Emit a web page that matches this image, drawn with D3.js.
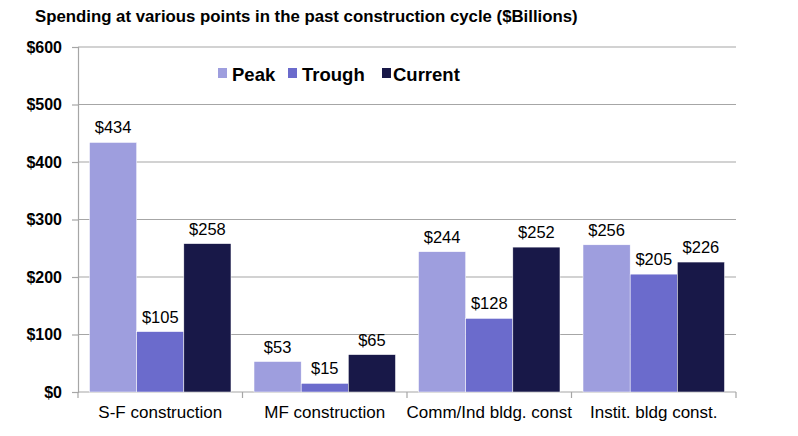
<!DOCTYPE html>
<html>
<head>
<meta charset="utf-8">
<script src="https://cdn.jsdelivr.net/npm/d3@7"></script>
<style>
  body { margin: 0; background: #fff; }
  text { font-family: "Liberation Sans", Arial, sans-serif; }
</style>
</head>
<body>
<svg width="798" height="436"></svg>
<script>
// Chart data
const categories = ["S-F construction", "MF construction", "Comm/Ind bldg. const", "Instit. bldg const."];
const seriesNames = ["Peak", "Trough", "Current"];
const peak = [434, 53, 244, 256];
const trough = [105, 15, 128, 205];
const current = [258, 65, 252, 226];
const yTicks = [0, 100, 200, 300, 400, 500, 600];
const colors = ["#9e9ede", "#6b6bcc", "#181848"];

const series = [peak, trough, current];

const svg = d3.select("svg");
const margin = { top: 47, right: 62, bottom: 44, left: 78 };
const width = 798, height = 436;
const innerWidth = width - margin.left - margin.right;
const innerHeight = height - margin.top - margin.bottom;

// Title
svg.append("text")
    .attr("x", 35)
    .attr("y", 22)
    .attr("font-size", 16.8)
    .attr("font-weight", "bold")
    .text("Spending at various points in the past construction cycle ($Billions)");

const g = svg.append("g")
    .attr("transform", `translate(${margin.left},${margin.top})`);

// Scales
const x0 = d3.scaleBand()
    .domain(categories)
    .range([0, innerWidth])
    .paddingInner(0.14)
    .paddingOuter(0.07);

const x1 = d3.scaleBand()
    .domain(seriesNames)
    .range([0, x0.bandwidth()]);

const y = d3.scaleLinear()
    .domain([0, 600])
    .range([innerHeight, 0]);

// Gridlines
g.append("g")
    .selectAll("line")
    .data(yTicks.slice(1))
    .join("line")
    .attr("x1", 0)
    .attr("x2", innerWidth)
    .attr("y1", d => y(d))
    .attr("y2", d => y(d))
    .attr("stroke", "#a6a6a6")
    .attr("stroke-width", 1.2);

// Y axis
const yAxis = g.append("g")
    .call(d3.axisLeft(y).tickValues(yTicks).tickFormat(d => "$" + d).tickSize(6).tickPadding(10));
yAxis.select(".domain").attr("stroke", "#a6a6a6").attr("stroke-width", 1.2);
yAxis.selectAll(".tick line").attr("stroke", "#a6a6a6").attr("stroke-width", 1.2);
yAxis.selectAll(".tick text")
    .attr("font-size", 16)
    .attr("font-weight", "bold")
    .attr("fill", "#000")
    .attr("font-family", "Liberation Sans, Arial, sans-serif");

// X axis
const xAxisG = g.append("g")
    .attr("transform", `translate(0,${innerHeight})`);
xAxisG.append("line")
    .attr("x1", 0).attr("x2", innerWidth)
    .attr("stroke", "#a6a6a6").attr("stroke-width", 1.2);
xAxisG.selectAll(".sep")
    .data(d3.range(categories.length + 1))
    .join("line")
    .attr("x1", i => i * x0.step())
    .attr("x2", i => i * x0.step())
    .attr("y1", 0).attr("y2", 6)
    .attr("stroke", "#a6a6a6").attr("stroke-width", 1.2);
xAxisG.selectAll(".cat")
    .data(categories)
    .join("text")
    .attr("x", d => x0(d) + x0.bandwidth() / 2)
    .attr("y", 26)
    .attr("text-anchor", "middle")
    .attr("font-size", 17)
    .text(d => d);

// Bars
const groups = g.selectAll(".grp")
    .data(categories)
    .join("g")
    .attr("transform", d => `translate(${x0(d)},0)`);

groups.selectAll("rect")
    .data((d, i) => seriesNames.map((s, j) => ({ s, v: series[j][i], c: colors[j] })))
    .join("rect")
    .attr("x", d => x1(d.s))
    .attr("y", d => y(d.v))
    .attr("width", x1.bandwidth())
    .attr("height", d => innerHeight - y(d.v))
    .attr("fill", d => d.c)
    .attr("stroke", "#fff")
    .attr("stroke-width", 0.5);

groups.selectAll(".lbl")
    .data((d, i) => seriesNames.map((s, j) => ({ s, v: series[j][i] })))
    .join("text")
    .attr("x", d => x1(d.s) + x1.bandwidth() / 2)
    .attr("y", d => y(d.v) - 9)
    .attr("text-anchor", "middle")
    .attr("font-size", 16.5)
    .text(d => "$" + d.v);

// Legend
const legendX = [218, 288, 382];
const legendTextX = [232, 302, 393];
const legend = svg.append("g");
seriesNames.forEach((s, i) => {
    legend.append("rect")
        .attr("x", legendX[i])
        .attr("y", 68)
        .attr("width", 9)
        .attr("height", 10)
        .attr("fill", colors[i]);
    legend.append("text")
        .attr("x", legendTextX[i])
        .attr("y", 81)
        .attr("font-size", 18.5)
        .attr("font-weight", "bold")
        .text(s);
});
</script>
</body>
</html>
